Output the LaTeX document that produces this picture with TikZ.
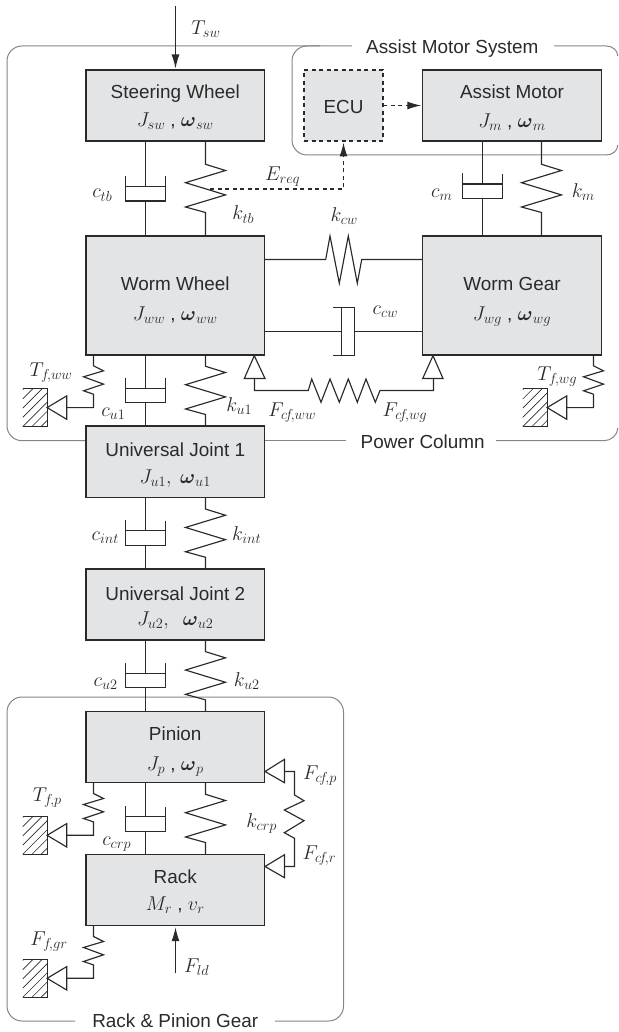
\RequirePackage{fix-cm}
\documentclass[tikz,border=0pt]{standalone}
\usepackage{amsmath}
\usepackage{fontspec}
\setmainfont{Liberation Sans}
\usetikzlibrary{calc,arrows.meta}
\DeclareMathSizes{18.9}{20}{14.4}{10}
\definecolor{ink}{HTML}{2A2A2A}
\definecolor{mass}{HTML}{E3E4E6}
\definecolor{frame}{HTML}{858585}
\newcommand\bt[4]{\raisebox{#2pt}[0pt][0pt]{\makebox[0pt]{#1}}\raisebox{#4pt}[0pt][0pt]{\makebox[0pt]{#3}}}
\newcommand\om{\boldsymbol{\omega}}
\tikzset{
 mbox/.style={draw=ink,fill=mass,line width=1.2pt,minimum width=178.5pt,inner sep=0pt,outer sep=0pt,text=ink},
 dbox/.style={mbox,dash pattern=on 4pt off 3.5pt,minimum width=79pt,minimum height=71pt},
 lab/.style={anchor=base,inner sep=0pt,outer sep=0pt,text=ink},
 ttl/.style={anchor=base,inner sep=0pt,outer sep=0pt,text=ink},
 wire/.style={draw=ink,line width=1.15pt,line join=miter},
 frm/.style={draw=frame,line width=1pt},
 dsh/.style={draw=ink,line width=1.15pt,dash pattern=on 4pt off 3.5pt},
 hd/.style={-{Latex[length=14pt,width=8pt]},shorten >=1.5pt},
 every node/.append style={font=\fontsize{18.9}{24}\selectfont}
}
% vertical spring below #1 to above #2, horizontal offset #3 from #1 centre
\newcommand\spr[3]{%
 \coordinate (a) at ($(#1.south)+(#3,0)$);
 \coordinate (b) at (a |- #2.north);
 \coordinate (m) at ($(a)!.5!(b)$);
 \draw[wire] (a) -- ($(m)+(0,-24.2)$) -- ($(m)+(20,-18)$) -- ($(m)+(-20,-5.8)$) -- ($(m)+(20,6.4)$) -- ($(m)+(-20,18.5)$) -- ($(m)+(0,24)$) -- (b);
}
% vertical damper; #3 offset, #4 shift of piston
\newcommand\dmp[4]{%
 \coordinate (a) at ($(#1.south)+(#3,0)$);
 \coordinate (b) at (a |- #2.north);
 \coordinate (m) at ($(a)!.5!(b)+(0,#4)$);
 \draw[wire] (a) -- (m);
 \draw[wire] ($(m)+(-19.7,-10.5)$) -- ($(m)+(-19.7,14.5)$) -- ($(m)+(19.7,14.5)$) -- ($(m)+(19.7,-10)$);
 \draw[wire] ($(m)+(-19.7,0)$) -- ($(m)+(19.7,0)$);
 \draw[wire] ($(m)+(0,14.5)$) -- (b);
}
% friction element below #1, offset #2
\newcommand\fric[2]{%
 \coordinate (a) at ($(#1.south)+(#2,0)$);
 \coordinate (c) at ($(a)+(0,52.6)$);
 \coordinate (t) at ($(c)+(-46.4,0)$);
 \coordinate (q) at ($(t)+(19.6,0)$);
 \draw[wire] (a) -- ++(0,10.8) -- ++(10,5) -- ++(-20,6) -- ++(20,7.3) -- ++(-20,6.7) -- ++(10,3.4) -- (c) -- (q);
 \draw[wire] (t) -- ($(q)+(0,-11.7)$) -- ($(q)+(0,11.7)$) -- cycle;
 \begin{scope}
  \clip ($(t)+(-24.4,-19)$) rectangle ($(t)+(0,19)$);
  \foreach \k in {-3,...,4}{
   \draw[ink,line width=.65pt] ($(t)+(-24.4,19-\k*9.2)$) -- ++(40,-40);
   }
 \end{scope}
 \draw[wire] ($(t)+(-24.4,-19)$) -- ($(t)+(0,-19)$) -- ($(t)+(0,19)$) -- ($(t)+(-24.4,19)$);
}
\begin{document}
\begin{tikzpicture}[x=1pt,y=-1pt]
\useasboundingbox (0,0) rectangle (618,1032);
% frames
\coordinate (pa) at (352,46);
\coordinate (pb) at (86,440.7);
\coordinate (pc) at (346,440.7);
\coordinate (pd) at (496,440.7);
\coordinate (pe) at (617.8,428);
\coordinate (ae) at (554,46);
\coordinate (af) at (617.8,56);
\coordinate (ag) at (320,46);
\coordinate (ah) at (617.8,145);
\coordinate (ra) at (75,1021);
\coordinate (rb) at (275,1021);
\draw[frm,rounded corners=15pt] (pa) -- (7,46) -- (7,440.7) -- (pb);
\draw[frm] (264.5,440.7) -- (pc);
\draw[frm] (pd) -- (604,440.7) .. controls (611,440.7) and (617.8,435) .. (pe);
\draw[frm,rounded corners=15pt] (ag) -- (292,46) -- (292,155) -- (400,155);
\draw[frm] (400,155) -- (606,155) .. controls (612,155) and (617.8,151) .. (ah);
\draw[frm] (ae) -- (606,46) .. controls (612,46) and (617.8,50) .. (af);
\draw[frm,rounded corners=15pt] (ra) -- (7,1021) -- (7,697) -- (343.5,697) -- (343.5,1021) -- (rb);
% masses
\node[mbox,minimum height=71pt] (sw) at (175.25,105.5) {\bt{Steering Wheel}{6.5}{$J_{sw}$ , $\om_{sw}$}{-21.2}};
\node[mbox,minimum height=71pt] (am) at (512,105.5) {\bt{Assist Motor}{6.5}{$J_m$ , $\om_m$}{-22.2}};
\node[dbox] (ecu) at (343.5,105.5) {\bt{ECU}{-8.5}{}{0}};
\node[mbox,minimum height=119pt] (ww) at (175.25,295.5) {\bt{Worm Wheel}{5.5}{$J_{ww}$ , $\om_{ww}$}{-24.5}};
\node[mbox,minimum height=119pt] (wg) at (512,295.5) {\bt{Worm Gear}{5.5}{$J_{wg}$ , $\om_{wg}$}{-24.5}};
\node[mbox,minimum height=71.5pt] (u1) at (175.25,461.75) {\bt{Universal Joint 1}{5}{$J_{u1},\ \om_{u1}$}{-21.5}};
\node[mbox,minimum height=71pt] (u2) at (175.25,604.5) {\bt{Universal Joint 2}{4.5}{$J_{u2},\ \ \om_{u2}$}{-20.5}};
\node[mbox,minimum height=71pt] (pi) at (175.25,747.2) {\bt{Pinion}{6.5}{$J_p$ , $\om_p$}{-22.8}};
\node[mbox,minimum height=71.4pt] (ra1) at (175.25,890) {\bt{Rack}{6.7}{$M_r$ , $v_r$}{-20.7}};
% springs and dampers
\dmp{sw}{ww}{-29.75}{-2}
\spr{sw}{ww}{30.25}
\coordinate (ereq) at ($(m)+(4.75,0.5)$);
\dmp{am}{wg}{-29.5}{-4.5}
\spr{am}{wg}{29.5}
\dmp{ww}{u1}{-29.75}{-2.2}
\spr{ww}{u1}{30.25}
\dmp{u1}{u2}{-29.75}{-2.5}
\spr{u1}{u2}{30.25}
\dmp{u2}{pi}{-29.75}{-2.5}
\spr{u2}{pi}{30.25}
\dmp{pi}{ra1}{-29.75}{-1.8}
\spr{pi}{ra1}{30.25}
\fric{ww}{-81.75}
\fric{wg}{81.5}
\fric{pi}{-81.75}
\fric{ra1}{-81.75}
% k_cw spring
\coordinate (kw) at (264.5,259.5);
\draw[wire] (ww.east |- kw) -- (325.7,259.5) -- (330,236) -- (339.3,283.3) -- (348.3,236) -- (357.3,283.3) -- (361.7,259.5) -- (wg.west |- kw);
% c_cw damper
\coordinate (cw) at (341.5,331.5);
\coordinate (cx) at (354.5,331.5);
\draw[wire] (ww.east |- cw) -- (cw);
\draw[wire] (341.5,307.5) -- (341.5,355);
\draw[wire] (333.3,307.5) -- (354.5,307.5) -- (354.5,355.5) -- (332.5,355.5);
\draw[wire] (cx) -- (wg.west |- cx);
% F_cf spring
\coordinate (fl) at (254.3,355.7);
\coordinate (fr) at (433,355.7);
\draw[wire] (fl) -- (244.3,378.5) -- (265,378.5) -- cycle;
\draw[wire] (fr) -- (422.7,378.5) -- (443,378.5) -- cycle;
\draw[wire] (254.5,378.5) -- (254.5,390.5) -- (308.3,390.5) -- (311.7,379) -- (321,402.3) -- (330,379) -- (339.3,402.3) -- (348.3,379) -- (357.3,402.3) -- (366,379) -- (375.3,402.3) -- (380,390.5) -- (433.5,390.5) -- (433.5,378.5);
% k_crp spring
\coordinate (pt) at (265,771.5);
\coordinate (rt) at (265,866.5);
\draw[wire] (pt) -- (284.5,759.3) -- (284.5,782.7) -- cycle;
\draw[wire] (rt) -- (284.5,854.7) -- (284.5,877.7) -- cycle;
\draw[wire] (284.5,771.5) -- (294.5,771.5) -- (294.5,795) -- (304,800.7) -- (284.3,810) -- (304,820.7) -- (284.3,832.7) -- (294.5,838.3) -- (294.5,866.5) -- (284.5,866.5);
% arrows
\coordinate (tin) at (175.5,6);
\coordinate (fin) at (175.5,973.3);
\draw[wire,hd] (tin) -- (tin |- sw.north);
\draw[wire,hd] (fin) -- (fin |- ra1.south);
\draw[dsh,hd] (ereq) -| (ecu.south);
\draw[dsh,hd] (ecu.east) -- (am.west);
% labels
\node[ttl] (tams) at (452.3,54) {Assist Motor System};
\node[ttl] (tpc) at (422.7,448.3) {Power Column};
\node[ttl] (trp) at (175.3,1027.3) {Rack \& Pinion Gear};
\node[lab] (l1) at (206,34.3) {$T_{sw}$};
\node[lab] (l2) at (102.3,198) {$c_{tb}$};
\node[lab] (l3) at (282.7,180.3) {$E_{req}$};
\node[lab] (l4) at (243.3,220) {$k_{tb}$};
\node[lab] (l5) at (441.7,197.3) {$c_m$};
\node[lab] (l6) at (583.3,197.3) {$k_m$};
\node[lab] (l7) at (344.3,221.7) {$k_{cw}$};
\node[lab] (l8) at (385.3,314) {$c_{cw}$};
\node[lab] (l9) at (51,376) {$T_{f\!,ww}$};
\node[lab] (l10) at (113.3,416.7) {$c_{u1}$};
\node[lab] (l11) at (239.3,411) {$k_{u1}$};
\node[lab] (l12) at (292.3,416.7) {$F_{c\!f\!,ww}$};
\node[lab] (l13) at (405,416) {$F_{c\!f\!,wg}$};
\node[lab] (l14) at (557.3,380) {$T_{f\!,wg}$};
\node[lab] (l15) at (105.3,540.7) {$c_{int}$};
\node[lab] (l16) at (246.7,540) {$k_{int}$};
\node[lab] (l17) at (105.7,686.7) {$c_{u2}$};
\node[lab] (l18) at (246.7,686) {$k_{u2}$};
\node[lab] (l19) at (47.3,801) {$T_{f\!,p}$};
\node[lab] (l20) at (116.7,845) {$c_{crp}$};
\node[lab] (l21) at (261.7,827.7) {$k_{crp}$};
\node[lab] (l22) at (320,779.3) {$F_{c\!f\!,p}$};
\node[lab] (l23) at (319.3,859.3) {$F_{c\!f\!,r}$};
\node[lab] (l24) at (49,945) {$F_{f\!,gr}$};
\node[lab] (l25) at (196.7,972.7) {$F_{ld}$};
\end{tikzpicture}
\end{document}
